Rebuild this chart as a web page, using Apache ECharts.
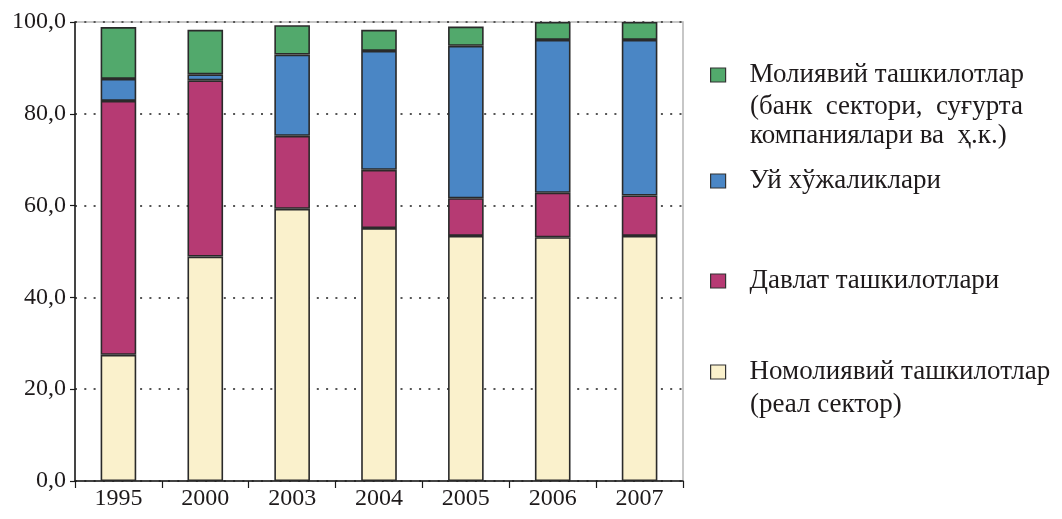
<!DOCTYPE html>
<html>
<head>
<meta charset="utf-8">
<script src="https://cdn.jsdelivr.net/npm/echarts@6/dist/echarts.min.js"></script>
<style>
html,body{margin:0;padding:0;background:#fff;}
#chart{width:1062px;height:519px;}
</style>
</head>
<body>
<div id="chart"></div>
<script>
// ---- data ----
const categories = ['1995', '2000', '2003', '2004', '2005', '2006', '2007'];
const nonFinancial = [27.5, 48.9, 59.3, 55.1, 53.4, 53.1, 53.4];   // Номолиявий ташкилотлар
const government   = [55.3, 38.4, 15.9, 12.7, 8.2, 9.7, 8.8];      // Давлат ташкилотлари
const households   = [4.8, 1.3, 17.7, 25.9, 33.2, 33.3, 33.9];     // Уй хўжаликлари
const financial    = [11.3, 9.7, 6.4, 4.6, 4.2, 3.9, 3.9];         // Молиявий ташкилотлар
const yTicks = [0, 20, 40, 60, 80, 100];

const seriesNames = {
  fin: 'Молиявий ташкилотлар',
  hh: 'Уй хўжаликлари',
  gov: 'Давлат ташкилотлари',
  nonfin: 'Номолиявий ташкилотлар'
};
const finExtra = ['(банк  сектори,  суғурта', 'компаниялари ва  ҳ.к.)'];
const nonfinExtra = ['(реал сектор)'];

const FONT = '"Liberation Serif", "DejaVu Serif", serif';
const TXT = '#1e1a1b';
const LEG_SIZE = 27;

const chart = echarts.init(document.getElementById('chart'), null, {renderer: 'canvas'});

function legendFor(name, top) {
  return {
    data: [name],
    left: 710,
    top: top,
    padding: 0,
    itemWidth: 15,
    itemHeight: 14,
    icon: 'rect',
    selectedMode: false,
    itemStyle: {borderColor: '#333', borderWidth: 1.2},
    textStyle: {fontFamily: FONT, fontSize: LEG_SIZE, color: TXT, lineHeight: 32, padding: [0, 0, 0, 19]}
  };
}

function barSeries(name, data, color) {
  return {
    name: name,
    type: 'bar',
    stack: 'total',
    data: data,
    barWidth: '41%',
    itemStyle: {color: color, borderColor: '#2a2a2a', borderWidth: 1.6},
    emphasis: {disabled: true}
  };
}

function extraText(text, y) {
  return {
    type: 'text',
    left: 750,
    top: y - 16,
    style: {text: text, font: LEG_SIZE + 'px ' + FONT, fill: TXT, lineHeight: 32, verticalAlign: 'top'}
  };
}

const option = {
  backgroundColor: '#ffffff',
  animation: false,
  grid: {left: 75, right: 379, top: 22, bottom: 38, show: true, borderColor: '#b5b5b5', borderWidth: 1.5, backgroundColor: 'transparent'},
  legend: [
    legendFor(seriesNames.fin, 59),
    legendFor(seriesNames.hh, 165),
    legendFor(seriesNames.gov, 265),
    legendFor(seriesNames.nonfin, 356)
  ],
  graphic: [
    extraText(finExtra[0], 107),
    extraText(finExtra[1], 136),
    extraText(nonfinExtra[0], 405)
  ],
  xAxis: {
    type: 'category',
    data: categories,
    axisLine: {lineStyle: {color: '#1a1a1a', width: 1.5}},
    axisTick: {show: true, inside: false, length: 7, alignWithLabel: false, lineStyle: {color: '#1a1a1a', width: 1.2}},
    axisLabel: {fontFamily: FONT, fontSize: 24, color: TXT, margin: 6}
  },
  yAxis: {
    type: 'value',
    min: 0,
    max: 100,
    interval: 20,
    axisLine: {show: true, lineStyle: {color: '#1a1a1a', width: 1.5}},
    axisTick: {show: true, inside: false, length: 5, lineStyle: {color: '#1a1a1a', width: 1.2}},
    axisLabel: {
      fontFamily: FONT, fontSize: 24, color: TXT, margin: 9,
      formatter: v => yTicks.includes(v) ? v.toFixed(1).replace('.', ',') : ''
    },
    splitLine: {show: true, lineStyle: {color: '#555', width: 2, type: [2, 7.3]}}
  },
  series: [
    barSeries(seriesNames.nonfin, nonFinancial, '#faf1cc'),
    barSeries(seriesNames.gov, government, '#b63a73'),
    barSeries(seriesNames.hh, households, '#4a86c5'),
    barSeries(seriesNames.fin, financial, '#52a96c')
  ]
};
chart.setOption(option);
</script>
</body>
</html>
